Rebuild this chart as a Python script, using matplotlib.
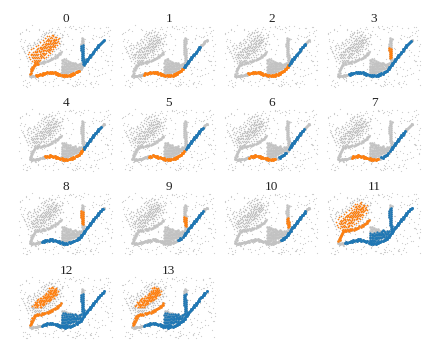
import numpy as np
import matplotlib.pyplot as plt

main_curve = [(14.5,55.5),(15.8,55.6),(17.1,56.2),(18.4,55.5),(19.6,55.9),(20.8,55.2),(22.0,55.6),(23.2,54.8),(24.3,55.0),(25.4,54.1),
    (26.6,54.6),(27.7,53.3),(28.9,53.9),(30.1,52.6),(31.3,53.4),(32.4,52.0),(33.6,52.9),(34.8,51.5),(36.0,52.5),(37.1,51.8),
    (38.3,53.0),(39.5,52.2),(40.7,53.7),(41.8,53.0),(43.0,54.6),(44.2,53.8),(45.4,55.3),(46.5,54.6),(47.7,56.0),(48.9,55.0),
    (50.1,56.3),(51.2,55.3),(52.4,56.0),(53.6,54.8),(54.8,55.5),(55.9,54.2),(57.1,54.7),(58.3,53.1),(59.4,53.7),(60.5,51.9),
    (61.6,52.3),(62.7,50.7),(63.7,51.0),(64.6,49.3),(65.5,49.4),(66.2,47.3),(67.1,47.2),(67.7,45.3),(68.7,45.0),(69.1,43.2),
    (70.2,42.9),(70.5,41.2),(71.6,40.8),(72.0,39.2),(73.1,39.0),(73.6,37.3),(74.6,37.1),(75.1,35.3),(76.2,35.1),(76.7,33.5),
    (77.8,33.2),(78.3,31.5),(79.4,31.2),(79.9,29.3),(81.0,29.1),(81.5,27.3),(82.6,27.0),(83.1,25.4),(84.2,25.2),(84.9,23.7),
    (85.9,23.2),(86.7,21.7),(87.7,21.2),(88.8,20.0)]

vertical = [(67.0,17.5),(68.4,18.5),(66.6,19.5),(67.9,20.5),(66.5,21.5),(67.8,22.5),(66.0,23.5),(67.5,24.5),(66.0,25.5),(67.6,26.5),
    (66.2,27.5),(67.8,28.5),(66.3,29.5),(67.9,30.5),(66.5,31.5),(68.0,32.5),(66.7,33.5),(68.2,34.5),(66.9,35.5),(68.3,36.5),
    (67.1,37.5),(68.6,38.5),(67.4,39.5),(68.8,40.5),(67.7,41.5),(69.0,42.5),(68.0,43.5),(69.2,44.5)]

arm_low = [(15.0,53.5),(16.4,52.6),(15.6,51.3),(17.0,50.4),(16.4,49.2),(17.8,48.3),(17.4,47.0),(18.9,46.4),(18.6,45.0),(20.2,44.6),
    (20.0,43.2),(21.6,43.7),(22.0,42.4),(23.2,43.6)]
arm_high = [(24.4,42.3),(25.6,43.2),(26.8,41.8),(28.0,42.6),(29.2,41.3),(30.4,42.0),(31.6,40.8),(32.8,41.4),(34.0,40.0),(35.2,40.3),
    (36.2,38.8),(37.4,39.2),(38.4,37.6),(39.6,38.0),(40.4,36.4),(41.6,36.6),(42.4,34.9),(43.4,35.1),(44.2,33.3),(45.0,33.6),(45.6,32.0)]

cloud_inner = [(34.2,16.4),(36.1,17.0),(37.8,16.2),(39.5,17.3),(35.0,18.1),(37.0,18.4),(38.9,18.9),(41.0,18.5),(40.2,19.6),
    (33.7,20.2),(35.6,19.7),(37.5,20.4),(39.3,20.6),(41.4,20.2),(34.6,21.6),(36.4,21.2),(38.3,21.8),(40.3,21.7),(42.0,22.3),
    (31.0,22.9),(33.1,22.6),(35.2,23.0),(37.1,22.7),(39.0,23.1),(40.9,23.4),(30.2,24.0),(32.2,24.2),(34.1,24.4),(36.0,24.1),(38.1,24.5),
    (28.8,25.6),(30.9,25.4),(32.9,25.7),(35.0,25.5),(36.9,25.9),(38.6,26.1),(26.1,26.7),(28.0,26.9),(29.9,27.0),(31.8,26.8),(33.9,27.1),(35.8,27.2),
    (23.4,27.6),(25.0,28.1),(27.0,28.2),(29.0,28.4),(30.9,28.1),(32.8,28.5),(34.8,28.4),(23.6,29.6),(25.9,29.4),(27.9,29.7),(30.0,29.8),(31.9,29.6),
    (19.6,30.5),(21.7,30.9),(24.1,31.0),(26.2,30.9),(28.4,31.1),(30.5,31.2),(19.9,32.3),(22.2,32.4),(24.5,32.3),(26.8,32.6),(29.0,32.5),
    (18.5,33.7),(20.8,33.9),(23.0,33.7),(25.4,34.0),(27.6,34.0),(20.0,35.4),(22.3,35.2),(24.6,35.5),
    (36.7,15.3),(40.7,16.9),(33.2,19.4),(38.6,19.9),(42.8,19.1),(30.9,21.1),(35.4,20.9),(39.7,22.6),(32.6,23.7),(27.7,24.3),
    (37.6,23.6),(29.8,26.0),(34.6,26.4),(24.7,26.9),(31.4,27.7),(22.4,28.7),(26.7,29.0),(33.7,29.2),(29.2,30.4),(20.6,31.7),
    (25.1,31.9),(27.7,33.2),(17.4,34.4),(21.9,34.6),(26.2,35.2)]
cloud_outer = [(33.1,18.6),(31.6,19.8),(42.5,20.9),(32.5,21.3),(29.3,22.4),(40.0,24.8),(27.2,25.0),(37.7,27.4),(36.4,28.8),(21.5,29.2),
    (33.9,29.9),(35.4,30.2),(32.6,31.1),(34.0,31.6),(17.8,32.1),(31.2,32.7),(16.4,33.5),(29.7,34.1),(15.6,35.1),(17.7,35.2),
    (26.9,35.6),(28.8,35.4),(16.6,36.6),(18.9,36.7),(21.2,36.9),(23.4,36.7),(25.7,37.0),(27.5,36.9),(17.6,38.0),(19.9,38.2),
    (22.1,38.1),(24.4,38.3),(26.2,38.4),(18.8,39.5),(21.0,39.6),(23.2,39.7),(25.1,39.6),(20.0,41.0),(22.1,41.2),(23.9,41.0),
    (14.4,31.6),(15.7,29.4),(18.1,27.9),(20.9,26.3),(23.3,24.7),(25.4,22.4),(28.1,20.1),(30.2,18.1),(32.2,16.2),(38.1,14.6),
    (43.7,17.8),(44.3,22.6),(42.4,25.3),(40.2,27.3),(38.4,29.4),(36.7,31.1),(34.9,33.3),(32.9,34.9),(30.7,36.7),(28.6,38.3),
    (14.2,36.9),(15.1,38.9),(16.9,40.7),(19.0,42.2),(13.2,34.2)]
cloud_halo = [(30.3,14.2),(33.4,13.1),(36.2,12.4),(39.1,14.2),(42.3,15.1),(45.1,18.3),(46.2,21.4),(45.3,24.2),(43.1,27.5),(41.4,29.3),
    (39.2,31.4),(37.3,33.6),(35.2,35.1),(33.1,37.3),(31.4,39.2),(28.1,40.7),(12.2,30.3),(13.1,28.4),(16.3,27.1),(18.2,25.3),
    (20.1,24.2),(22.3,23.1),(24.2,21.3),(26.1,19.2),(28.3,17.1),(29.1,15.3),(31.2,12.4),(11.3,36.1),(12.1,38.4),(13.2,41.2),
    (16.1,43.1),(10.2,33.4),(15.2,24.6),(19.3,21.8),(23.1,18.6),(26.4,15.7),(34.3,10.2),(9.3,31.2),(11.6,26.4),(40.3,11.6),
    (47.3,16.9),(48.2,24.1),(44.6,30.1),(40.1,33.9),(36.2,37.6)]

blob = [(54.1,44.4),(56.0,44.9),(57.9,44.3),(59.2,45.1),(47.2,45.6),(49.1,46.0),(51.0,45.7),(52.9,46.1),(54.8,45.9),(56.7,46.3),(58.6,46.2),(60.3,46.6),
    (46.6,47.3),(48.4,47.5),(50.3,47.2),(52.2,47.6),(54.1,47.4),(56.0,47.7),(57.9,47.5),(59.8,47.9),(47.3,48.9),(49.2,49.0),(51.1,48.8),(53.0,49.2),
    (54.9,49.0),(56.8,49.3),(58.7,49.1),(60.5,49.4),(46.5,50.4),(48.4,50.6),(50.3,50.3),(52.2,50.7),(54.1,50.5),(56.0,50.8),(57.9,50.6),(47.2,52.0),
    (49.1,51.9),(51.0,52.1),(52.9,51.8),(54.8,52.0),(46.4,53.4),(48.0,53.7),(50.0,53.2),(52.1,53.4)]
blob_top = [(46.9,39.6),(48.8,39.4),(50.7,40.2),(52.6,41.1),(54.5,41.5),(47.6,41.4),(49.5,41.6),(51.4,42.6),(53.3,43.0),(55.2,42.8),
    (46.7,43.1),(48.6,43.5),(50.5,44.2),(52.4,44.6),(57.0,42.9)]
blob_tail = [(61.2,47.6),(62.4,46.3),(63.3,48.0),(64.5,45.2),(62.0,44.7),(60.6,43.7),(65.2,44.0),(61.5,45.4),(59.9,42.6),(66.0,43.0),
    (58.4,43.1),(63.8,43.6),(64.3,46.6)]

noise_x = [7.2,41.3,88.1,23.6,65.4,12.8,93.4,54.7,30.2,76.9,5.1,48.6,84.3,19.4,71.2,36.8,95.7,9.9,58.1,27.3,80.4,44.2,15.6,90.8,62.3,33.5,74.1,6.4,51.9,86.7,
    21.2,68.5,39.4,96.3,11.3,56.8,29.1,78.6,46.3,17.7,92.2,60.4,35.2,72.9,4.3,49.7,83.1,24.8,66.9,13.9,94.6,53.4,31.6,75.3,8.2,42.8,87.4,20.3,70.1,38.1,
    97.0,10.6,57.3,26.4,79.5,45.1,16.2,89.3,63.5,32.7,73.4,5.8,50.6,85.6,22.5,67.7,40.2,95.1,12.1,55.6,28.2,77.8,47.4,18.8,91.5,61.2,34.3,71.8,3.6,52.3,
    82.2,25.9,64.3,14.7,93.9,59.2,37.4,76.1,7.9,43.6,88.9,19.9,69.3,41.9,96.7,9.2,58.9,30.8,81.3,46.9,16.9,90.1,62.9,35.8,74.8,6.9,51.2,84.9,23.1,66.2,
    39.9,94.2,11.9,54.2,27.9,79.1,44.8,15.1,92.7,60.9,33.2,72.3,4.8,48.1,86.1,21.8,68.1,37.9,97.3,13.2,56.2,29.7,77.2,47.9,18.1,89.8,63.1,36.3,75.7,8.7,
    50.1,83.7,24.2,65.8,10.1,95.5,53.9,31.1,78.2,42.2,87.9,20.8,70.7,38.7,91.1,14.2,57.7,26.9,80.8,45.7,17.2,93.1,61.8,34.7,73.7,5.4,49.2,85.2,22.9,67.2,
    40.7,96.1,12.6,55.1,28.7,76.6,43.1,19.1,90.4,59.7,32.2,71.5,6.1,52.7,82.8,25.3,64.9,15.9,94.9,58.4,36.9,74.4,8.4,47.1,87.1,21.4,69.8,41.6,92.9,10.9,
    56.4,30.4,79.9,44.5,18.4,88.5,62.6,35.5,77.5,7.5,50.9,83.4,23.9,65.1,13.5,96.9,54.4,27.6,81.9,46.6,16.5,91.8,60.1,33.9,72.6,4.6,48.9,85.9,22.1,67.9]
noise_y = [12.4,58.3,31.7,8.9,62.1,24.6,45.2,6.3,64.8,17.5,38.9,10.7,55.4,28.1,60.3,7.8,49.6,20.2,65.7,14.3,42.1,9.4,57.9,34.6,61.9,11.8,52.7,26.3,63.4,16.4,
    47.8,5.7,59.2,30.5,66.2,19.3,43.7,8.2,56.6,36.2,13.1,60.9,25.4,50.3,33.3,6.9,64.1,22.8,39.6,11.1,58.8,15.7,46.4,62.7,29.2,7.3,53.8,35.5,18.6,61.2,
    41.3,9.8,65.1,27.4,48.7,12.9,57.2,21.5,63.9,32.4,6.1,54.5,37.8,16.9,60.1,24.1,44.6,10.2,66.5,30.1,51.9,14.6,59.6,23.3,40.8,8.6,62.4,28.7,47.1,13.7,
    56.1,34.1,7.1,64.5,19.9,42.7,11.4,61.6,26.8,49.2,15.2,58.1,37.1,9.1,65.4,22.2,45.9,17.8,60.6,31.1,5.4,53.2,39.1,12.2,63.2,27.9,50.8,8.4,57.6,20.7,
    43.2,16.1,62.9,33.8,10.5,55.8,25.8,47.6,6.6,64.3,18.3,41.8,13.4,59.9,29.6,52.1,9.6,65.9,23.7,46.1,7.6,61.4,36.7,14.9,54.9,21.1,44.2,11.7,63.6,31.9,
    56.9,17.1,40.2,8.1,60.4,26.1,48.3,12.7,66.8,34.9,19.6,58.6,28.4,51.4,6.8,62.2,24.9,45.6,15.9,57.4,38.3,10.9,64.7,30.8,53.5,20.9,42.4,7.9,61.1,35.1,
    16.7,49.9,25.1,59.1,13.2,46.8,65.2,22.6,39.9,9.3,55.1,32.9,18.9,63.1,27.1,43.9,11.5,57.8,36.4,5.9,52.4,21.8,60.8,14.1,48.1,29.9,66.1,17.3,41.1,8.8,
    54.2,33.1,62.6,24.4,46.3,12.1,59.4,37.4,19.1,64.9,28.9,50.1,10.1,56.3,23.1,44.8,7.4,61.8,31.4,15.4,53.1,40.6,66.4,26.6,47.4,13.9,58.4,35.8,20.4,63.8]

main_orange = {0: (20, 64), 1: (26, 66), 2: (27, 68), 4: (30, 68), 5: (30.6, 67), 6: (28, 55), 7: (28, 55)}
main_blue = {0: [(69, 89)], 1: [(66, 83)], 2: [(68, 85.6)], 3: [(25, 88)], 4: [(68, 86)], 5: [(68, 85)],
    6: [(58, 66), (68, 84)], 7: [(58, 65), (67, 82)], 8: [(26, 88)], 9: [(60, 64.5), (65.5, 85)],
    10: [(60, 85)], 11: [(21, 89)], 12: [(26, 89)], 13: [(26, 89)]}
vertical_orange = {3: (27, 38), 8: (23, 37), 9: (29, 39), 10: (30, 40)}
vertical_blue = {0: (24, 45), 11: (20, 45), 12: (22, 45), 13: (22, 45)}

grey = "#c2c2c2"
blue = "#1f77b4"
orange = "#ff7f0e"


def dots(ax, pts, color, size):
    pts = np.array(pts)
    if len(pts):
        ax.scatter(pts[:, 0], pts[:, 1], s=size, c=color, linewidths=0)


def pick(pts, col, lo, hi):
    return [p for p in pts if lo <= p[col] <= hi]


fig = plt.figure(figsize=(4.4, 3.57), dpi=100)
W, H = 440, 357

for i in range(14):
    row, col = i // 4, i % 4
    left = 15 + 102.7 * col
    top = 20 + 83.8 * row
    ax = fig.add_axes([left / W, 1 - (top + 70) / H, 100 / W, 70 / H])
    ax.set_xlim(0, 100)
    ax.set_ylim(70, 0)
    ax.axis("off")
    ax.text(51, -0.7, str(i), ha="center", va="center", fontsize=9.5, color="#222222", family="Liberation Serif", clip_on=False)

    dots(ax, list(zip(noise_x, noise_y)), "#cdcdcd", 0.8)
    dots(ax, cloud_inner + cloud_outer + cloud_halo, grey, 1.1)
    dots(ax, blob + blob_top + blob_tail, grey, 3.4)
    dots(ax, arm_low + arm_high + vertical, grey, 3.4)
    dots(ax, main_curve, grey, 4.5)

    # coloured groups change from panel to panel
    if i in main_orange:
        dots(ax, pick(main_curve, 0, *main_orange[i]), orange, 4.5)
    for lo, hi in main_blue[i]:
        dots(ax, pick(main_curve, 0, lo, hi), blue, 4.5)
    if i in vertical_orange:
        dots(ax, pick(vertical, 1, *vertical_orange[i]), orange, 3.4)
    if i in vertical_blue:
        dots(ax, pick(vertical, 1, *vertical_blue[i]), blue, 3.4)
    if i == 0:
        dots(ax, cloud_inner + cloud_outer, orange, 1.3)
        dots(ax, arm_low, orange, 3.4)
    if i >= 11:
        dots(ax, blob + blob_tail, blue, 2.8)
        dots(ax, arm_low + arm_high, orange, 3.4)
        if i == 11:
            dots(ax, cloud_inner + cloud_outer, orange, 1.3)
        else:
            dots(ax, cloud_inner, orange, 1.8)
            dots(ax, blob_top[5:], blue, 2.8)

fig.savefig("out.png", dpi=100)
